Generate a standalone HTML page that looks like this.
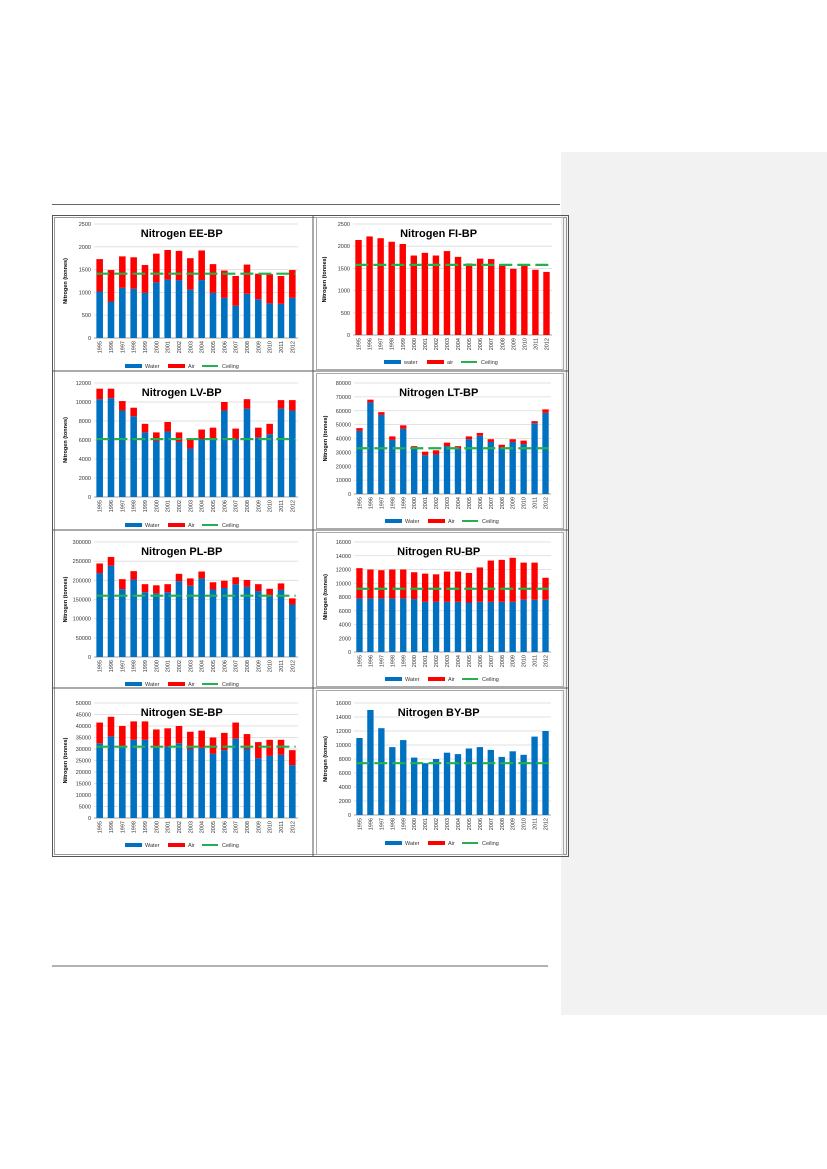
<!DOCTYPE html>
<html><head><meta charset="utf-8"><style>
html,body{margin:0;padding:0;background:#fff;}
svg{display:block;font-family:"Liberation Sans",sans-serif;}
</style></head><body>
<svg id="page" width="827" height="1169" xmlns="http://www.w3.org/2000/svg">
<rect x="561" y="152" width="266" height="863" fill="#f2f2f2"/>
<line x1="52" y1="204.5" x2="560" y2="204.5" stroke="#666" stroke-width="1"/>
<line x1="52" y1="966" x2="548" y2="966" stroke="#666" stroke-width="1"/>
<g stroke="#555" fill="none">
<rect x="52.5" y="215.5" width="516" height="641" stroke-width="1"/>
<rect x="54.5" y="217.5" width="512" height="637" stroke-width="0.6"/>
<line x1="313" y1="215" x2="313" y2="857" stroke-width="1"/>
<line x1="52" y1="371" x2="568" y2="371"/>
<line x1="52" y1="530" x2="568" y2="530"/>
<line x1="52" y1="688" x2="568" y2="688"/>
<rect x="316.5" y="217.5" width="247" height="152" stroke="#aaa"/>
<rect x="316.5" y="373.5" width="247" height="155" stroke="#aaa"/>
<rect x="316.5" y="532.5" width="247" height="154" stroke="#aaa"/>
<rect x="316.5" y="690.5" width="247" height="164" stroke="#aaa"/>
</g>
<g id="charts"></g>
</svg>
<script>
const years = ['1995','1996','1997','1998','1999','2000','2001','2002','2003','2004','2005','2006','2007','2008','2009','2010','2011','2012'];
const eeWater = [1020,800,1100,1080,990,1220,1280,1270,1060,1270,990,880,710,970,850,760,750,880];
const eeAir = [710,690,690,690,610,630,650,640,690,650,630,600,650,640,560,640,610,610];
const eeCeiling = 1410;
const eeTicks = [0,500,1000,1500,2000,2500];
const fiWater = [0,0,0,0,0,0,0,0,0,0,0,0,0,0,0,0,0,0];
const fiAir = [2140,2220,2180,2100,2050,1790,1850,1790,1890,1760,1610,1720,1710,1590,1490,1570,1470,1420];
const fiCeiling = 1580;
const fiTicks = [0,500,1000,1500,2000,2500];
const lvWater = [10300,10400,9100,8500,6800,5900,6900,5800,5100,6100,6100,9100,6100,9300,6300,6600,9300,9100];
const lvAir = [1100,1000,1000,900,900,900,1000,1000,1000,1000,1200,900,1100,1000,1000,1100,900,1100];
const lvCeiling = 6100;
const lvTicks = [0,2000,4000,6000,8000,10000,12000];
const ltWater = [45500,66000,57000,39000,47000,33000,28000,28500,34500,32500,39500,42000,37500,33500,37500,36000,51000,58500];
const ltAir = [2000,2000,2000,2500,2500,1500,2500,3000,2500,2000,2000,2000,2000,2000,2000,2500,1500,2500];
const ltCeiling = 33000;
const ltTicks = [0,10000,20000,30000,40000,50000,60000,70000,80000];
const plWater = [219000,238000,177000,202000,169000,166000,169000,198000,186000,205000,176000,180000,190000,183000,172000,160000,175000,137000];
const plAir = [25000,23000,26000,22000,21000,21000,21000,19000,19000,18000,19000,19000,18000,18000,18000,18000,17000,16000];
const plCeiling = 160000;
const plTicks = [0,50000,100000,150000,200000,250000,300000];
const ruWater = [7800,7800,7800,7800,7800,7700,7300,7300,7300,7300,7200,7300,7300,7300,7300,7600,7600,7600];
const ruAir = [4400,4200,4100,4200,4200,3900,4100,4000,4400,4400,4300,5000,6000,6100,6400,5400,5400,3200];
const ruCeiling = 9200;
const ruTicks = [0,2000,4000,6000,8000,10000,12000,14000,16000];
const seWater = [32500,35500,31000,34000,34000,30500,31000,32500,30000,30500,28000,29500,34500,30000,26000,27000,27500,23000];
const seAir = [9000,8500,9000,8000,8000,8000,8000,7500,7500,7500,7000,7500,7000,6500,7000,7000,6500,6500];
const seCeiling = 31000;
const seTicks = [0,5000,10000,15000,20000,25000,30000,35000,40000,45000,50000];
const byWater = [11000,15000,12400,9700,10700,8200,7400,8000,8900,8700,9500,9700,9300,8300,9100,8600,11200,12000];
const byAir = [0,0,0,0,0,0,0,0,0,0,0,0,0,0,0,0,0,0];
const byCeiling = 7400;
const byTicks = [0,2000,4000,6000,8000,10000,12000,14000,16000];

const NS='http://www.w3.org/2000/svg';
const root=document.getElementById('charts');
function mk(tag,attrs,parent){const e=document.createElementNS(NS,tag);for(const k in attrs)e.setAttribute(k,attrs[k]);parent.appendChild(e);return e;}

function chart(id,title,water,air,ceiling,ticks,L,R,T,B,legY,labels){
  const g=mk('g',{},root);
  
  
  const max=ticks[ticks.length-1];
  const y=v=>B-(v/max)*(B-T);
  const slot=(R-L)/years.length;
  const x=i=>L+slot*(i+0.5);
  ticks.forEach(t=>{
    const ln=mk('line',{x1:L,x2:R,y1:y(t),y2:y(t),stroke:t===0?'#888':'#d9d9d9','stroke-width':0.8},g);
    
    
    const tx=mk('text',{x:L-3,y:y(t)+2,'font-size':5.5,'text-anchor':'end',fill:'#333'},g);
    
    
    tx.textContent=t;
  });
  const bw=slot*0.58;
  years.forEach((yr,i)=>{
    if(water[i]>0){
      const b=mk('rect',{x:x(i)-bw/2,y:y(water[i]),width:bw,height:B-y(water[i]),fill:'#0070c0'},g);
      
      
    }
    if(air[i]>0){
      const a=mk('rect',{x:x(i)-bw/2,y:y(water[i]+air[i]),width:bw,height:y(water[i])-y(water[i]+air[i]),fill:'#ff0000'},g);
      
      
    }
    const t=mk('text',{x:0,y:0,'font-size':5.5,'text-anchor':'end',fill:'#333',transform:'translate('+(x(i)+2)+','+(B+3)+') rotate(-90)'},g);
    
    
    t.textContent=yr;
  });
  const c=mk('line',{x1:x(0)-bw/2,x2:x(years.length-1)+bw/2,y1:y(ceiling),y2:y(ceiling),stroke:'#22b14c','stroke-width':2.2,'stroke-dasharray':'13,5'},g);
  
  
  const tt=mk('text',{x:L+(R-L)*0.43,y:T+13,'font-size':11,'font-weight':'bold','text-anchor':'middle',fill:'#000'},g);
  
  
  tt.textContent=title;
  const yt=mk('text',{x:0,y:0,'font-size':5.5,'font-weight':'bold','text-anchor':'middle',fill:'#000',transform:'translate('+(L-27)+','+((T+B)/2)+') rotate(-90)'},g);
  
  
  yt.textContent='Nitrogen (tonnes)';
  const lx=L+31;
  const lg=mk('g',{},g);
  
  
  mk('rect',{x:lx,y:legY-2,width:17,height:4,fill:'#0070c0'},lg);
  mk('text',{x:lx+20,y:legY+2,'font-size':5.5,fill:'#333'},lg).textContent=labels[0];
  mk('rect',{x:lx+43,y:legY-2,width:17,height:4,fill:'#ff0000'},lg);
  mk('text',{x:lx+63,y:legY+2,'font-size':5.5,fill:'#333'},lg).textContent=labels[1];
  mk('line',{x1:lx+77,x2:lx+93,y1:legY,y2:legY,stroke:'#22b14c','stroke-width':2},lg);
  mk('text',{x:lx+97,y:legY+2,'font-size':5.5,fill:'#333'},lg).textContent='Ceiling';
}
chart('ee','Nitrogen EE-BP',eeWater,eeAir,eeCeiling,eeTicks,94,298,224,338,366,['Water','Air']);
chart('fi','Nitrogen FI-BP',fiWater,fiAir,fiCeiling,fiTicks,353,552,224,335,362,['water','air']);
chart('lv','Nitrogen LV-BP',lvWater,lvAir,lvCeiling,lvTicks,94,298,383,497,525,['Water','Air']);
chart('lt','Nitrogen LT-BP',ltWater,ltAir,ltCeiling,ltTicks,354,551,383,494,521,['Water','Air']);
chart('pl','Nitrogen PL-BP',plWater,plAir,plCeiling,plTicks,94,298,542,657,684,['Water','Air']);
chart('ru','Nitrogen RU-BP',ruWater,ruAir,ruCeiling,ruTicks,354,551,542,652,679,['Water','Air']);
chart('se','Nitrogen SE-BP',seWater,seAir,seCeiling,seTicks,94,298,703,818,845,['Water','Air']);
chart('by','Nitrogen BY-BP',byWater,byAir,byCeiling,byTicks,354,551,703,815,843,['Water','Air']);
</script>
</body></html>
